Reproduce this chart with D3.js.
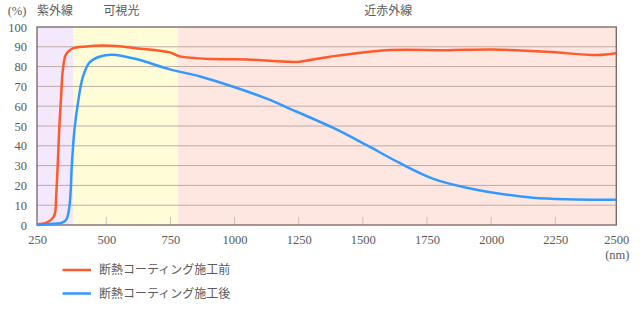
<!DOCTYPE html>
<html>
<head>
<meta charset="utf-8">
<script src="https://cdn.jsdelivr.net/npm/d3@7"></script>
<style>
  html, body { margin: 0; padding: 0; background: #fff; }
  svg { display: block; }
</style>
</head>
<body>
<svg id="chart" width="640" height="330"></svg>
<script>
// Wavelength (nm) and transmittance (%) before coating
const beforeNm  = [250, 282, 307, 315, 319, 325, 330, 337, 343, 355, 379, 427, 487, 551, 616, 748, 783, 916, 1048, 1216, 1255, 1372, 1594, 1828, 2007, 2218, 2421, 2500];
const beforeVal = [0.3, 1.0, 3.5, 6.0, 14, 31, 48, 65, 78, 86.3, 89.2, 90.2, 90.7, 90.3, 89.3, 87.2, 85.3, 83.8, 83.6, 82.4, 82.5, 85.0, 88.3, 88.3, 88.6, 87.5, 85.8, 86.7];

// Wavelength (nm) and transmittance (%) after coating
const afterNm  = [250, 319, 340, 355, 367, 376, 385, 397, 415, 439, 475, 525, 616, 748, 866, 995, 1125, 1242, 1385, 1515, 1645, 1775, 1905, 2035, 2163, 2297, 2500];
const afterVal = [0, 0.7, 1.2, 2.5, 9.4, 31, 48, 61, 74.5, 82, 85, 86, 83.8, 78.6, 75, 69.8, 63.8, 57.2, 49.0, 40.3, 31.2, 23.3, 18.8, 15.8, 13.8, 13.0, 12.7];

// Spectral bands
const bandNames = ["紫外線", "可視光", "近赤外線"];
const bandStart = [250, 380, 780];
const bandEnd   = [380, 780, 2500];
const bandColors = ["#f4e8fc", "#fffcd8", "#fee7e1"];

// Axis ticks
const xTicks = [250, 500, 750, 1000, 1250, 1500, 1750, 2000, 2250, 2500];
const yTicks = [0, 10, 20, 30, 40, 50, 60, 70, 80, 90, 100];

// Legend
const seriesNames = ["断熱コーティング施工前", "断熱コーティング施工後"];
const seriesColors = ["#ff5a2c", "#3399ff"];

const svg = d3.select("#chart");
const plotLeft = 37, plotRight = 616.3, plotTop = 27, plotBottom = 225;

const x = d3.scaleLinear()
  .domain([250, 500, 2250, 2500])
  .range([plotLeft, 106.3, 555.3, plotRight]);
const y = d3.scaleLinear().domain([0, 100]).range([plotBottom, plotTop]);

const numFont = "'Liberation Serif', serif";
const jpFont = "'Noto Sans CJK JP', sans-serif";
const textColor = "#5a5a5a";

// Band backgrounds
svg.append("g").selectAll("rect")
  .data(bandNames)
  .join("rect")
  .attr("x", (d, i) => x(bandStart[i]))
  .attr("y", plotTop)
  .attr("width", (d, i) => x(bandEnd[i]) - x(bandStart[i]))
  .attr("height", plotBottom - plotTop)
  .attr("fill", (d, i) => bandColors[i]);

// Horizontal gridlines
svg.append("g").selectAll("line")
  .data(yTicks.filter(v => v > 0 && v < 100))
  .join("line")
  .attr("x1", plotLeft).attr("x2", plotRight)
  .attr("y1", d => y(d)).attr("y2", d => y(d))
  .attr("stroke", "#bfaaa5")
  .attr("stroke-width", 1);

// Small inward tick marks on the bottom axis
svg.append("g").selectAll("line")
  .data(xTicks.slice(1, -1))
  .join("line")
  .attr("x1", d => x(d)).attr("x2", d => x(d))
  .attr("y1", plotBottom).attr("y2", plotBottom - 8)
  .attr("stroke", "#cbbfb8")
  .attr("stroke-width", 1);

// Frame
svg.append("rect")
  .attr("x", plotLeft).attr("y", plotTop)
  .attr("width", plotRight - plotLeft).attr("height", plotBottom - plotTop)
  .attr("fill", "none")
  .attr("stroke", "#7b6262")
  .attr("stroke-width", 1.3);

// Axis labels
const xAxis = d3.axisBottom(x).tickValues(xTicks).tickFormat(d3.format("d"))
  .tickSize(0).tickPadding(10);
const gx = svg.append("g").attr("transform", `translate(0,${plotBottom})`).call(xAxis);
gx.select(".domain").remove();
gx.selectAll("text")
  .style("font-family", numFont).style("font-size", "12.5px").attr("fill", textColor);

const yAxis = d3.axisLeft(y).tickValues(yTicks).tickFormat(d3.format("d"))
  .tickSize(0).tickPadding(10);
const gy = svg.append("g").attr("transform", `translate(${plotLeft},0)`).call(yAxis);
gy.select(".domain").remove();
gy.selectAll("text")
  .style("font-family", numFont).style("font-size", "12.5px").attr("fill", textColor);

// Curves
const line = d3.line().curve(d3.curveCatmullRom.alpha(0.5))
  .x(d => x(d[0])).y(d => y(d[1]));

const series = [
  d3.zip(beforeNm, beforeVal),
  d3.zip(afterNm, afterVal)
];

svg.append("g").selectAll("path")
  .data(series)
  .join("path")
  .attr("d", line)
  .attr("fill", "none")
  .attr("stroke", (d, i) => seriesColors[i])
  .attr("stroke-width", 2.5)
  .attr("stroke-linejoin", "round");

// Band titles above the plot
const bandLabelShift = [0, -4, -9];
svg.append("g").selectAll("text")
  .data(bandNames)
  .join("text")
  .attr("x", (d, i) => (x(bandStart[i]) + x(bandEnd[i])) / 2 + bandLabelShift[i])
  .attr("y", 15)
  .attr("text-anchor", "middle")
  .style("font-family", jpFont)
  .style("font-size", "12px")
  .attr("fill", textColor)
  .text(d => d);

// Unit labels
svg.append("text")
  .attr("x", 17).attr("y", 15)
  .attr("text-anchor", "middle")
  .style("font-family", numFont).style("font-size", "12.5px").attr("fill", textColor)
  .text("(%)");

svg.append("text")
  .attr("x", x(2500) + 1).attr("y", 259)
  .attr("text-anchor", "middle")
  .style("font-family", numFont).style("font-size", "12.5px").attr("fill", textColor)
  .text("(nm)");

// Legend
const legend = svg.append("g").selectAll("g")
  .data(seriesNames)
  .join("g")
  .attr("transform", (d, i) => `translate(62.5,${270 + i * 23.5})`);

legend.append("line")
  .attr("x1", 0).attr("x2", 28.5)
  .attr("stroke", (d, i) => seriesColors[i])
  .attr("stroke-width", 2.5);

legend.append("text")
  .attr("x", 36.5).attr("y", 0)
  .attr("dy", "0.36em")
  .style("font-family", jpFont).style("font-size", "12px")
  .attr("fill", textColor)
  .text(d => d);
</script>
</body>
</html>
